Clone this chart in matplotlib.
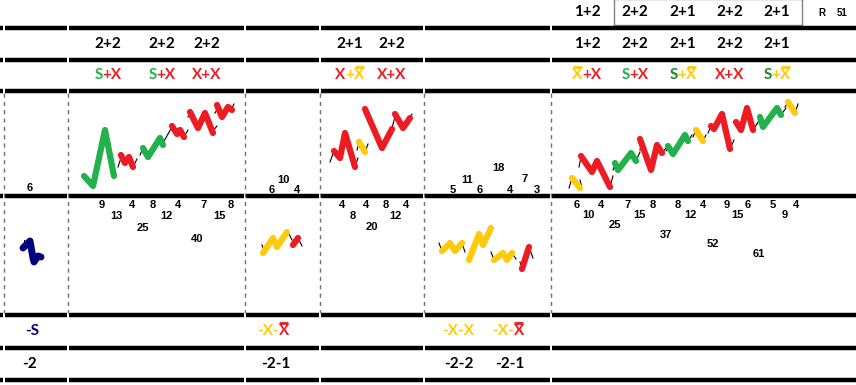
import matplotlib
matplotlib.use("Agg")
import matplotlib.pyplot as plt

W, H = 856, 385

GREEN = "#22B14C"
DGREEN = "#168A2E"
RED = "#ED1C24"
YELLOW = "#FFC90E"
NAVY = "#000080"

# ---------------- data ----------------
row_lines = [28, 60, 91, 196, 315, 348, 380]
col_bounds = [4, 68, 245, 320, 424, 551]

top_labels = ["1+2", "2+2", "2+1", "2+2", "2+1"]
top_x = [587, 635, 683, 730, 777]

pattern_labels = ["2+2", "2+2", "2+2", "2+1", "2+2", "1+2", "2+2", "2+1", "2+2", "2+1"]
pattern_x = [108, 162, 207, 350, 392, 587, 635, 683, 730, 777]

# (text, color, overbar)
type_labels = [
    [("S", GREEN, False), ("+X", RED, False)],
    [("S", GREEN, False), ("+X", RED, False)],
    [("X+X", RED, False)],
    [("X", RED, False), ("+", YELLOW, False), ("X", YELLOW, True)],
    [("X+X", RED, False)],
    [("X", YELLOW, True), ("+X", RED, False)],
    [("S", GREEN, False), ("+X", RED, False)],
    [("S", DGREEN, False), ("+", YELLOW, False), ("X", YELLOW, True)],
    [("X+X", RED, False)],
    [("S", DGREEN, False), ("+", YELLOW, False), ("X", YELLOW, True)],
]

neg_type_labels = [
    [("-S", NAVY, False)],
    [("-X-", YELLOW, False), ("X", RED, True)],
    [("-X-X", YELLOW, False)],
    [("-X-", YELLOW, False), ("X", RED, True)],
]
neg_type_x = [32, 273, 458, 508]
neg_pattern_labels = ["-2", "-2-1", "-2-2", "-2-1"]
neg_pattern_x = [30, 276, 459, 510]

# wave counts (upper panel)
up_counts = ["6", "6", "10", "4", "5", "11", "6", "18", "4", "7", "3"]
up_cx = [30, 272, 283, 297, 453, 467, 480, 498, 510, 525, 537]
up_cy = [188, 190, 180, 190, 190, 180, 190, 168, 190, 179, 190]

# wave counts (lower panel)
lo_counts = ["9", "4", "8", "4", "7", "8", "13", "12", "15", "25", "40",
             "4", "4", "8", "4", "8", "12", "20",
             "6", "4", "7", "8", "8", "4", "9", "6", "5", "4",
             "10", "15", "12", "15", "9", "25", "37", "52", "61"]
lo_cx = [102, 132, 153, 178, 204, 231, 116, 166, 219, 143, 197,
         342, 366, 386, 406, 353, 395, 372,
         577, 601, 628, 653, 678, 703, 727, 748, 773, 796,
         588, 639, 690, 737, 785, 615, 666, 713, 759]
lo_cy = [205, 205, 205, 205, 205, 205, 216, 216, 216, 228, 239,
         205, 205, 205, 205, 216, 216, 227,
         205, 205, 205, 205, 205, 205, 205, 205, 205, 205,
         215, 215, 215, 215, 215, 225, 235, 244, 254]

# colored wave paths
waves = [
    (GREEN, [84, 93, 105, 114], [176, 186, 130, 176]),
    (RED, [121, 125, 129, 133], [155, 163, 157, 167]),
    (GREEN, [143, 148, 160, 163], [148, 157, 138, 145]),
    (RED, [172, 177, 180, 184], [126, 134, 130, 137]),
    (RED, [190, 198, 205, 213], [112, 128, 113, 133]),
    (RED, [217, 222, 228, 232], [105, 117, 107, 110]),
    (RED, [334, 340, 345, 355], [151, 158, 133, 167]),
    (YELLOW, [359, 365], [142, 152]),
    (RED, [365, 382, 392], [109, 148, 129]),
    (RED, [395, 403, 410], [114, 128, 118]),
    (YELLOW, [572, 580], [178, 188]),
    (RED, [581, 592, 597, 610], [156, 172, 161, 187]),
    (GREEN, [615, 618, 631, 636], [163, 170, 153, 161]),
    (RED, [640, 651, 657, 662], [139, 170, 145, 153]),
    (GREEN, [668, 673, 685, 688], [146, 154, 135, 141]),
    (YELLOW, [696, 703], [130, 141]),
    (RED, [711, 714, 722, 730], [126, 129, 114, 149]),
    (RED, [736, 741, 747, 753], [122, 130, 108, 130]),
    (GREEN, [760, 763, 777, 781], [117, 127, 108, 115]),
    (YELLOW, [788, 795], [102, 113]),
    (NAVY, [23, 30, 33, 34, 38, 41], [248, 241, 258, 262, 256, 257]),
    (YELLOW, [263, 273, 277, 287], [253, 238, 247, 232]),
    (RED, [293, 298], [245, 238]),
    (YELLOW, [442, 450, 455, 462], [251, 243, 251, 243]),
    (YELLOW, [469, 479, 483, 491], [260, 234, 245, 228]),
    (YELLOW, [494, 503, 507, 512], [260, 253, 260, 253]),
    (RED, [522, 529], [269, 247]),
]

# thin black connectors
links = [
    ([118, 122], [167, 155]), ([133, 137], [167, 159]), ([140, 143], [155, 148]),
    ([163, 172], [143, 127]), ([184, 188], [137, 130]), ([188, 191], [117, 110]),
    ([213, 217], [131, 126]), ([215, 218], [113, 108]), ([232, 234], [108, 104]),
    ([330, 334], [162, 151]), ([355, 358], [167, 158]), ([357, 360], [150, 140]),
    ([365, 368], [152, 144]), ([392, 396], [128, 113]), ([410, 412], [118, 114]),
    ([569, 572], [188, 178]), ([580, 582], [180, 188]), ([579, 581], [167, 157]),
    ([610, 613], [187, 176]), ([613, 616], [170, 162]), ([636, 640], [161, 152]),
    ([640, 642], [150, 140]), ([662, 666], [153, 148]), ([666, 669], [151, 146]),
    ([688, 692], [141, 135]), ([693, 696], [137, 130]), ([703, 706], [141, 135]),
    ([708, 711], [133, 126]), ([730, 734], [149, 140]), ([753, 757], [130, 124]),
    ([757, 761], [124, 117]), ([781, 786], [115, 108]), ([785, 788], [107, 102]),
    ([795, 798], [113, 104]),
    ([24, 24], [240, 244]),
    ([262, 265], [245, 252]), ([288, 292], [232, 240]), ([298, 302], [238, 246]),
    ([439, 442], [243, 251]), ([462, 465], [243, 252]), ([491, 494], [252, 260]),
    ([512, 516], [253, 259]), ([520, 522], [262, 269]), ([529, 533], [247, 258]),
]

# ---------------- drawing ----------------
fig = plt.figure(figsize=(W / 100, H / 100), dpi=100)
ax = fig.add_axes([0, 0, 1, 1])
ax.set_xlim(0, W)
ax.set_ylim(H, 0)
ax.axis("off")

# thick row lines with gaps at column boundaries
edges = [0] + col_bounds + [W]
for y in row_lines:
    for a, b in zip(edges[:-1], edges[1:]):
        x0 = a + (1.2 if a > 0 else 0)
        x1 = b - (1.2 if b < W else 0)
        ax.plot([x0, x1], [y, y], color="black", lw=3.2, solid_capstyle="butt")

# dashed column separators
for x in col_bounds:
    ax.plot([x, x], [93, 313], color="#707070", lw=1.0, ls=(0, (3, 3)))

# header box
ax.add_patch(plt.Rectangle((614, -1), 188, 26, fill=False, edgecolor="#808080", lw=1.0))

LABEL_FONT = "Lato"
for s, x in zip(top_labels, top_x):
    ax.text(x, 12, s, ha="center", va="center", fontsize=11, fontweight="bold", family=LABEL_FONT)
ax.text(822, 13, "R", ha="center", va="center", fontsize=7, fontweight="bold", family="Liberation Sans")
ax.text(842, 13, "51", ha="center", va="center", fontsize=7, fontweight="bold", family="Liberation Sans")

for s, x in zip(pattern_labels, pattern_x):
    ax.text(x, 44, s, ha="center", va="center", fontsize=11, fontweight="bold", family=LABEL_FONT)
for s, x in zip(neg_pattern_labels, neg_pattern_x):
    ax.text(x, 364, s, ha="center", va="center", fontsize=11, fontweight="bold", family=LABEL_FONT)

renderer = fig.canvas.get_renderer()


def rich(x, y, parts):
    texts, widths = [], []
    for s, c, bar in parts:
        t = ax.text(0, y, s, color=c, ha="left", va="center", fontsize=11,
                    fontweight="bold", family=LABEL_FONT)
        bb = t.get_window_extent(renderer=renderer)
        texts.append(t)
        widths.append(bb.width)
    cur = x - sum(widths) / 2
    for t, w, (s, c, bar) in zip(texts, widths, parts):
        t.set_x(cur)
        if bar:
            ax.plot([cur + 0.5, cur + w - 0.5], [y - 8.5, y - 8.5], color=c, lw=2.0,
                    solid_capstyle="butt")
        cur += w


for parts, x in zip(type_labels, pattern_x):
    rich(x, 75, parts)
for parts, x in zip(neg_type_labels, neg_type_x):
    rich(x, 331, parts)

for s, x, y in zip(up_counts, up_cx, up_cy):
    ax.text(x, y, s, ha="center", va="center", fontsize=8, fontweight="bold", family="Liberation Sans")
for s, x, y in zip(lo_counts, lo_cx, lo_cy):
    ax.text(x, y, s, ha="center", va="center", fontsize=8, fontweight="bold", family="Liberation Sans")

for xs, ys in links:
    ax.plot(xs, ys, color="black", lw=0.8)
for c, xs, ys in waves:
    lw = 5.0 if c == NAVY else 4.5
    ax.plot(xs, ys, color=c, lw=lw, solid_capstyle="round", solid_joinstyle="round")

fig.savefig("out.png", dpi=100)
